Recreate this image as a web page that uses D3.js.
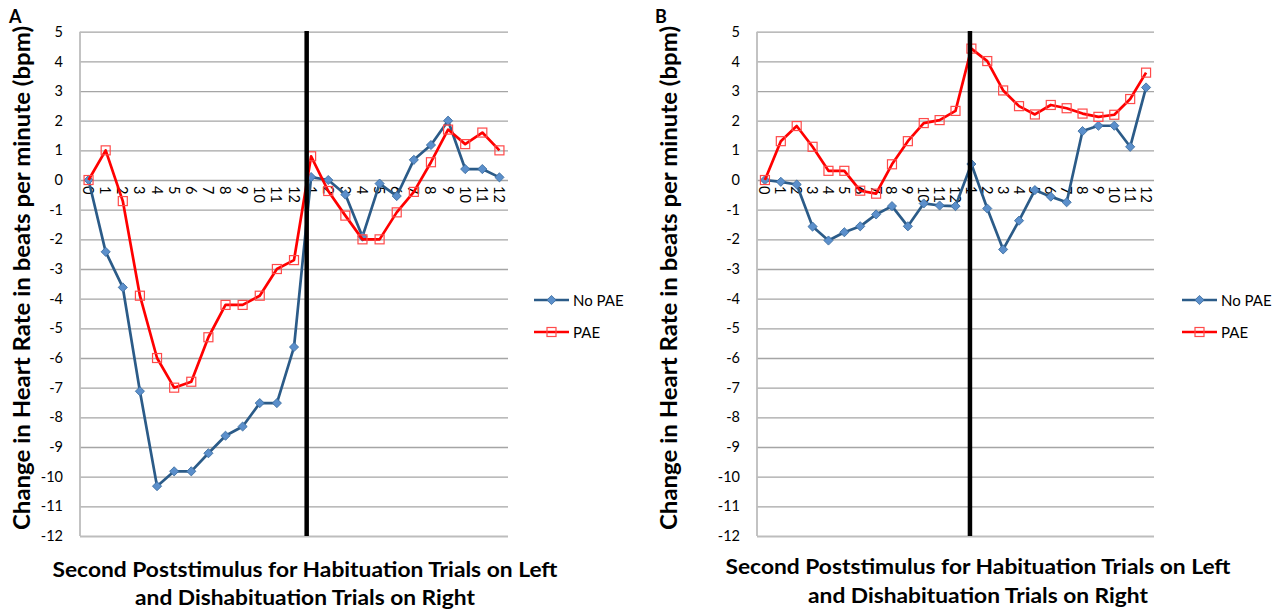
<!DOCTYPE html>
<html><head><meta charset="utf-8">
<script src="https://cdn.jsdelivr.net/npm/d3@7"></script>
<style>body{margin:0;background:#fff}svg{display:block}</style>
</head><body>
<svg id="chart" width="1282" height="609"></svg>
<script>
// ---------- data ----------
const categories = ["0","1","2","3","4","5","6","7","8","9","10","11","12",
                    "1","2","3","4","5","6","7","8","9","10","11","12"];
const yTickValues = [5,4,3,2,1,0,-1,-2,-3,-4,-5,-6,-7,-8,-9,-10,-11,-12];
const seriesNames = ["No PAE","PAE"];
const panelA_noPAE = [0,-2.42,-3.62,-7.12,-10.32,-9.82,-9.82,-9.21,-8.62,-8.31,-7.52,-7.52,-5.63,
                      0.1,0,-0.49,-1.91,-0.12,-0.54,0.68,1.18,2.0,0.37,0.37,0.09];
const panelA_PAE   = [0,1.0,-0.71,-3.9,-6.0,-7.0,-6.8,-5.3,-4.21,-4.21,-3.9,-3.0,-2.7,
                      0.8,-0.37,-1.2,-2.0,-2.0,-1.09,-0.4,0.6,1.7,1.21,1.6,1.0];
const panelB_noPAE = [0,-0.06,-0.15,-1.57,-2.04,-1.76,-1.56,-1.16,-0.88,-1.56,-0.79,-0.86,-0.88,
                      0.54,-0.96,-2.34,-1.37,-0.34,-0.56,-0.75,1.65,1.83,1.83,1.12,3.12];
const panelB_PAE   = [0,1.31,1.82,1.12,0.31,0.31,-0.36,-0.46,0.53,1.31,1.92,2.02,2.33,
                      4.43,4.01,3.02,2.49,2.21,2.53,2.42,2.24,2.13,2.2,2.73,3.62];
const panelLabels = ["A","B"];
const yTitle = "Change in Heart Rate in beats per minute (bpm)";
const xTitleLines = ["Second Poststimulus for Habituation Trials on Left","and Dishabituation Trials on Right"];

// ---------- style ----------
const FONT = "Lato, 'Open Sans', sans-serif";
const blueLine = "#2B5B88", blueFill = "#5B8FCB", blueEdge = "#3A6B9E";
const red = "#FF0000", redMarker = "#FF4A4A";

const svg = d3.select("#chart");

function drawPanel(cfg) {
  const g = svg.append("g");
  const idx = categories.map((c,i)=>i);
  const x = d3.scaleBand().domain(idx).range([cfg.left, cfg.right]).padding(0);
  const cx = i => x(i) + x.bandwidth()/2;
  const y = d3.scaleLinear().domain([-12,5]).range([536, 31.7]);
  const w = cfg.right - cfg.left;

  // grid
  const grid = g.append("g").attr("transform",`translate(${cfg.left},0)`)
    .call(d3.axisLeft(y).tickValues(yTickValues).tickSize(-w).tickFormat(""));
  grid.select(".domain").remove();
  grid.selectAll(".tick line").attr("stroke","#A5A5A5").attr("stroke-width",1.3);
  grid.selectAll(".tick").filter(d=>d===-12).select("line").attr("stroke","#BDBDBD").attr("stroke-width",1.8);

  // left axis line
  g.append("line").attr("x1",cfg.left).attr("x2",cfg.left).attr("y1",y(5)).attr("y2",y(-12))
    .attr("stroke","#BDBDBD").attr("stroke-width",1.8);

  // y tick labels
  const yAx = g.append("g").attr("transform",`translate(${cfg.left},0)`)
    .call(d3.axisLeft(y).tickValues(yTickValues).tickSize(0).tickPadding(17).tickFormat(d=>String(d)));
  yAx.select(".domain").remove();
  yAx.selectAll("text").attr("font-family",FONT).attr("font-size",14.5).attr("fill","#000");

  // x tick labels (rotated, below zero line)
  g.append("g").selectAll("text").data(idx).join("text")
    .attr("transform", i => `translate(${cx(i)},${y(0)+6}) rotate(90)`)
    .attr("text-anchor","start").attr("dominant-baseline","central")
    .attr("font-family",FONT).attr("font-size",14.5).attr("fill","#000")
    .text(i => categories[i]);

  const line = d3.line().x((d,i)=>cx(i)).y(d=>y(d));

  // No PAE
  g.append("path").datum(cfg.noPAE).attr("d",line).attr("fill","none")
    .attr("stroke",blueLine).attr("stroke-width",2.7).attr("stroke-linejoin","round");
  const diamond = d3.symbol().type(d3.symbolSquare).size(42)();
  g.append("g").selectAll("path").data(cfg.noPAE).join("path")
    .attr("d",diamond).attr("transform",(d,i)=>`translate(${cx(i)},${y(d)}) rotate(45)`)
    .attr("fill",blueFill).attr("stroke",blueEdge).attr("stroke-width",0.8);

  // PAE
  g.append("path").datum(cfg.PAE).attr("d",line).attr("fill","none")
    .attr("stroke",red).attr("stroke-width",2.7).attr("stroke-linejoin","round");
  g.append("g").selectAll("rect").data(cfg.PAE).join("rect")
    .attr("x",(d,i)=>cx(i)-4.5).attr("y",d=>y(d)-4.5).attr("width",9).attr("height",9)
    .attr("fill","none").attr("stroke",redMarker).attr("stroke-width",1.2);

  // divider
  const dx = cfg.left + (cfg.divider + 0.5) * x.bandwidth();
  g.append("line").attr("x1",dx).attr("x2",dx).attr("y1",31).attr("y2",536)
    .attr("stroke","#000").attr("stroke-width",4.5);

  // panel label
  g.append("text").attr("x",cfg.labelX).attr("y",23).attr("font-family",FONT)
    .attr("font-weight","bold").attr("font-size",18).text(cfg.label);

  // y title
  g.append("text").attr("transform",`translate(${cfg.yTitleX},278) rotate(-90)`)
    .attr("text-anchor","middle").attr("dominant-baseline","central")
    .attr("font-family",FONT).attr("font-weight","bold").attr("font-size",22)
    .attr("textLength",504).attr("lengthAdjust","spacingAndGlyphs").text(yTitle);

  // x title
  const tl = [505, 340];
  g.append("g").selectAll("text").data(xTitleLines).join("text")
    .attr("x",cfg.xTitleX).attr("y",(d,i)=>cfg.xTitleY[i])
    .attr("text-anchor","middle").attr("font-family",FONT).attr("font-weight","bold")
    .attr("font-size",21.5).attr("textLength",(d,i)=>tl[i]).attr("lengthAdjust","spacingAndGlyphs")
    .text(d=>d);

  // legend
  const lg = g.append("g");
  const ly = [300, 332];
  lg.append("line").attr("x1",cfg.legendX).attr("x2",cfg.legendX+35).attr("y1",ly[0]).attr("y2",ly[0])
    .attr("stroke",blueLine).attr("stroke-width",2.7);
  lg.append("path").attr("d",diamond).attr("transform",`translate(${cfg.legendX+17.5},${ly[0]}) rotate(45)`)
    .attr("fill",blueFill).attr("stroke",blueEdge).attr("stroke-width",0.8);
  lg.append("line").attr("x1",cfg.legendX).attr("x2",cfg.legendX+35).attr("y1",ly[1]).attr("y2",ly[1])
    .attr("stroke",red).attr("stroke-width",2.7);
  lg.append("rect").attr("x",cfg.legendX+13).attr("y",ly[1]-4.5).attr("width",9).attr("height",9)
    .attr("fill","none").attr("stroke",redMarker).attr("stroke-width",1.2);
  lg.selectAll("text").data(seriesNames).join("text")
    .attr("x",cfg.legendX+39).attr("y",(d,i)=>ly[i]).attr("dominant-baseline","central")
    .attr("font-family",FONT).attr("font-size",15).text(d=>d);
}

drawPanel({left:80, right:508, divider:12.74, label:panelLabels[0], labelX:9, yTitleX:21,
           xTitleX:305, xTitleY:[577,605], legendX:534, noPAE:panelA_noPAE, PAE:panelA_PAE});
drawPanel({left:757, right:1154, divider:12.91, label:panelLabels[1], labelX:655, yTitleX:668,
           xTitleX:978, xTitleY:[574,603], legendX:1182, noPAE:panelB_noPAE, PAE:panelB_PAE});
</script>
</body></html>
